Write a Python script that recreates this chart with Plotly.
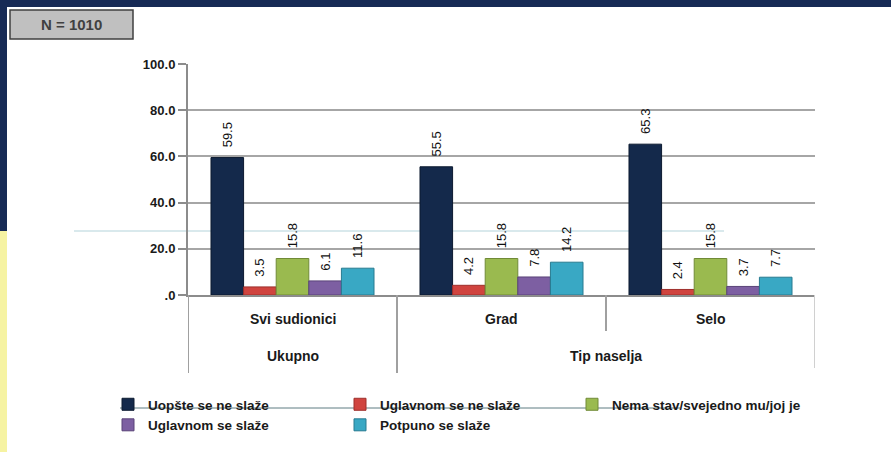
import plotly.graph_objects as go

# ---- data ----
categories = ["Svi sudionici", "Grad", "Selo"]
groups = ["Ukupno", "Tip naselja"]
series_names = ["Uopšte se ne slaže", "Uglavnom se ne slaže", "Nema stav/svejedno mu/joj je",
                "Uglavnom se slaže", "Potpuno se slaže"]
uopste = [59.5, 55.5, 65.3]
uglavnom_ne = [3.5, 4.2, 2.4]
nema_stav = [15.8, 15.8, 15.8]
uglavnom_da = [6.1, 7.8, 3.7]
potpuno = [11.6, 14.2, 7.7]
tick_vals = [0, 20, 40, 60, 80, 100]
tick_text = [".0", "20.0", "40.0", "60.0", "80.0", "100.0"]
n_label = "N = 1010"

series_values = [uopste, uglavnom_ne, nema_stav, uglavnom_da, potpuno]
colors = ["#14294b", "#d0443f", "#9aba4f", "#7d5fa2", "#39a8c4"]
edges = ["#0c1a30", "#9e2f2b", "#708a37", "#5a4378", "#287b90"]

W, H = 891, 452
L, R, T, B = 188, 815, 64, 295
PW, PH = R - L, B - T


def px(x):
    return (x - L) / PW


def py(y):
    return (B - y) / PH


FONT = "Liberation Sans, Arial, sans-serif"

fig = go.Figure()
for name, vals, c, e in zip(series_names, series_values, colors, edges):
    fig.add_trace(go.Bar(
        name=name, x=categories, y=vals,
        marker=dict(color=c, line=dict(color=e, width=1)),
        texttemplate="\u00a0\u00a0%{y:.1f}", textposition="outside", textangle=-90,
        textfont=dict(family=FONT, size=13, color="#111111"),
        cliponaxis=False,
    ))

shapes = []
# background decorations
shapes.append(dict(type="rect", xref="paper", yref="paper", x0=px(0), x1=px(W), y0=py(0), y1=py(7),
                   fillcolor="#172a55", line=dict(width=0), layer="below"))
shapes.append(dict(type="rect", xref="paper", yref="paper", x0=px(0), x1=px(7), y0=py(0), y1=py(231),
                   fillcolor="#172a55", line=dict(width=0), layer="below"))
shapes.append(dict(type="rect", xref="paper", yref="paper", x0=px(0), x1=px(7), y0=py(231), y1=py(H),
                   fillcolor="#f6f3a2", line=dict(width=0), layer="below"))
shapes.append(dict(type="line", xref="paper", yref="paper", x0=px(74), x1=px(724), y0=py(231), y1=py(231),
                   line=dict(color="#b3d3da", width=1), layer="below"))
shapes.append(dict(type="line", xref="paper", yref="paper", x0=px(120), x1=px(680), y0=py(408), y1=py(408),
                   line=dict(color="#5f7d82", width=1), layer="below"))
# N box
shapes.append(dict(type="rect", xref="paper", yref="paper", x0=px(10), x1=px(133), y0=py(10), y1=py(39),
                   fillcolor="#c0c0c0", line=dict(color="#404040", width=1.5)))
# category dividers
shapes.append(dict(type="line", xref="x", yref="paper", x0=-0.5, x1=-0.5, y0=0, y1=py(373),
                   line=dict(color="#a0a0a0", width=2)))
shapes.append(dict(type="line", xref="x", yref="paper", x0=0.5, x1=0.5, y0=0, y1=py(373),
                   line=dict(color="#a0a0a0", width=2)))
shapes.append(dict(type="line", xref="x", yref="paper", x0=1.5, x1=1.5, y0=0, y1=py(331),
                   line=dict(color="#a0a0a0", width=2)))
shapes.append(dict(type="line", xref="x", yref="paper", x0=2.5, x1=2.5, y0=0, y1=py(368),
                   line=dict(color="#d0d0d0", width=2)))

annotations = []
annotations.append(dict(xref="paper", yref="paper", x=px(71.5), y=py(24.5), text=n_label, showarrow=False,
                        font=dict(family=FONT, size=15, color="#404040", weight="bold"),
                        xanchor="center", yanchor="middle"))
for i, c in enumerate(categories):
    annotations.append(dict(xref="x", yref="paper", x=i, y=py(319), text=c, showarrow=False,
                            font=dict(family=FONT, size=14, color="#1a1a1a", weight="bold"),
                            xanchor="center", yanchor="middle"))
for gx, g in zip([0, 1.5], groups):
    annotations.append(dict(xref="x", yref="paper", x=gx, y=py(356), text=g, showarrow=False,
                            font=dict(family=FONT, size=14, color="#1a1a1a", weight="bold"),
                            xanchor="center", yanchor="middle"))

fig.update_layout(
    width=W, height=H,
    margin=dict(l=L, r=W - R, t=T, b=H - B, pad=0, autoexpand=False),
    paper_bgcolor="white", plot_bgcolor="white",
    barmode="group", bargap=0.22, bargroupgap=0,
    shapes=shapes, annotations=annotations,
    showlegend=True,
    legend=dict(orientation="h", x=px(108), y=py(389), xanchor="left", yanchor="top",
                entrywidth=187, entrywidthmode="pixels", traceorder="normal",
                font=dict(family=FONT, size=13.5, color="#1a1a1a", weight="bold"),
                bgcolor="rgba(0,0,0,0)"),
    font=dict(family=FONT),
)
fig.update_xaxes(showticklabels=False, showline=True, linecolor="#8c8c8c", linewidth=2,
                 ticks="", showgrid=False, range=[-0.5, 2.5])
fig.update_yaxes(range=[0, 100], tickvals=tick_vals, ticktext=tick_text, showline=True,
                 linecolor="#8c8c8c", linewidth=2, ticks="outside", ticklen=8, tickwidth=2,
                 tickcolor="#8c8c8c", showgrid=True, gridcolor="#a6a6a6", gridwidth=1.5,
                 zeroline=False,
                 tickfont=dict(family=FONT, size=13, color="#1a1a1a", weight="bold"))

fig.write_html("out.html", config={"displayModeBar": False},
               post_script="document.body.style.margin='0px';")
